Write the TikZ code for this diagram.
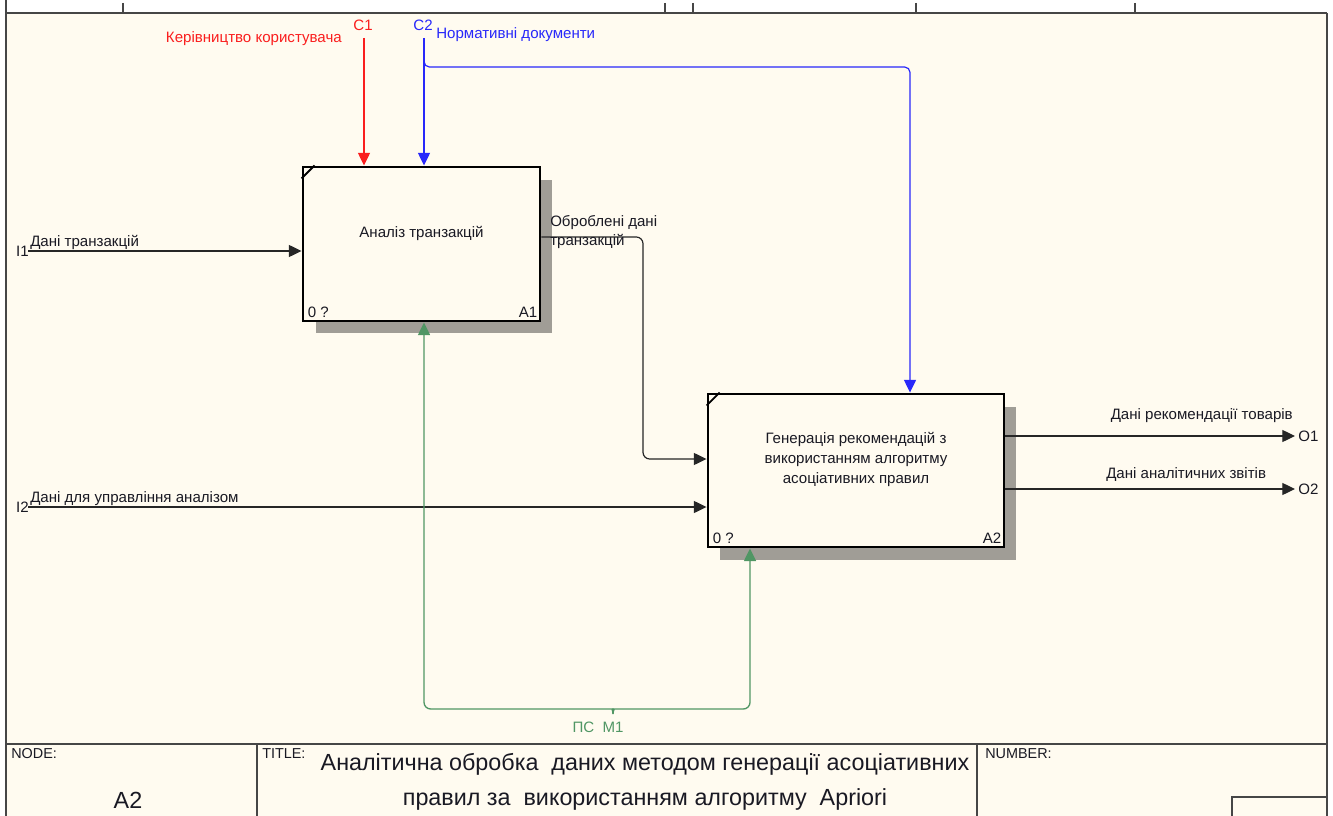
\documentclass[tikz,border=0pt]{standalone}
\usepackage{fontspec}
\setmainfont{Liberation Sans}
\usetikzlibrary{arrows.meta}

\definecolor{paper}{RGB}{255,251,240}
\definecolor{framec}{RGB}{70,70,70}
\definecolor{shadec}{RGB}{160,157,150}
\definecolor{ctrlred}{RGB}{250,30,30}
\definecolor{ctrlblue}{RGB}{40,40,250}
\definecolor{mechgreen}{RGB}{80,150,100}
\definecolor{inkc}{RGB}{25,25,35}

\begin{document}
\begin{tikzpicture}[x=0.75pt,y=-0.75pt,
  every node/.style={font=\fontsize{11.3}{14.25}\selectfont, inner sep=0pt, text=inkc},
  framerule/.style={draw=framec, line width=1.5pt},
  fnbox/.style={draw=black, line width=2.2pt, fill=paper},
  corner/.style={line width=1.4pt},
  arr/.style={-{Triangle[length=9.5pt,width=9pt]}},
  flow/.style={draw=black!85, line width=0.9pt, arr},
  ctrl/.style={line width=0.9pt, arr},
  mech/.style={draw=mechgreen, line width=1pt},
  small/.style={font=\fontsize{10.8}{12}\selectfont},
  big/.style={font=\fontsize{17.5}{26.25}\selectfont}]

% page and frame
\useasboundingbox (0,0) rectangle (1333,816);
\fill[white] (0,0) rectangle (1333,816);
\fill[paper] (6,13) rectangle (1327,816);
\draw[framerule] (6,0) -- (6,816);
\draw[framerule] (1327,13) -- (1327,816);
\draw[framerule] (6,13) -- (1327,13);
\foreach \tx in {123,665,693,916,1135}
  \draw[draw=framec, line width=0.9pt] (\tx,3) -- (\tx,13);

% title block
\draw[framerule] (6,744) -- (1327,744);
\draw[framerule] (257,744) -- (257,816);
\draw[framerule] (977,744) -- (977,816);
\draw[draw=framec, line width=1pt] (1232,816) -- (1232,797) -- (1327,797);
\node[small, anchor=north west] (nodelbl) at (11,748) {NODE:};
\node[big] (nodeval) at (128,800) {A2};
\node[small, anchor=north west] (titlelbl) at (262,748) {TITLE:};
\node[big, align=center] (titleval) at (645,782)
  {Аналітична обробка~ даних методом генерації асоціативних\\правил за~ використанням алгоритму~ Apriori};
\node[small, anchor=north west] (numlbl) at (985,748) {NUMBER:};

% box shadows
\fill[shadec] (540,180) rectangle (552,333);
\fill[shadec] (316,321) rectangle (552,333);
\fill[shadec] (1004,407) rectangle (1016,560);
\fill[shadec] (720,547) rectangle (1016,560);

% activity boxes
\node[fnbox, minimum width=177.75pt, minimum height=115.5pt] (a1) at (421.5,244) {};
\node[fnbox, minimum width=222pt, minimum height=114.75pt] (a2) at (856,470.5) {};
\draw[corner] ([yshift=-9.75pt]a1.north west) -- ([xshift=9.75pt]a1.north west);
\draw[corner] ([yshift=-9.75pt]a2.north west) -- ([xshift=9.75pt]a2.north west);
\node (a1txt) at ([yshift=8.25pt]a1.center) {Аналіз транзакцій};
\node[align=center, font=\fontsize{11.3}{15}\selectfont] (a2txt) at ([yshift=8pt]a2.center)
  {Генерація рекомендацій з\\використанням алгоритму\\асоціативних правил};
\node[anchor=base west] (a1num) at ([xshift=4.5pt,yshift=3.75pt]a1.south west) {0 ?};
\node[anchor=base east] (a1id) at ([xshift=-3pt,yshift=3.75pt]a1.south east) {A1};
\node[anchor=base west] (a2num) at ([xshift=4.5pt,yshift=3.75pt]a2.south west) {0 ?};
\node[anchor=base east] (a2id) at ([xshift=-3pt,yshift=3.75pt]a2.south east) {A2};

% helper coordinates
\coordinate (c1top) at (364,38);
\coordinate (c2top) at (424,38);
\coordinate (c2split) at (424,67);
\coordinate (c2turn) at (910,67);
\coordinate (i1end) at (28,251);
\coordinate (i2end) at (28,507);
\coordinate (a1out) at (643,237);
\coordinate (a1down) at (643,459);
\coordinate (o1end) at (1295,436);
\coordinate (o2end) at (1295,489);
\coordinate (m1tip) at (613,714);
\coordinate (m1left) at (424,709);
\coordinate (m1right) at (750,709);

% controls
\draw[ctrl, draw=ctrlred] (c1top) -- (c1top |- a1.north);
\draw[ctrl, draw=ctrlblue] (c2top) -- (c2top |- a1.north);
\draw[ctrl, draw=ctrlblue, rounded corners=4pt]
  ([yshift=4.5pt]c2split) -- (c2split) -- (c2turn) -- (c2turn |- a2.north);
\node[text=ctrlred] (c1id) at (363,25) {C1};
\node[text=ctrlred, anchor=east] (c1lbl) at (342,39) {Керівництво користувача};
\node[text=ctrlblue] (c2id) at (423,25) {C2};
\node[text=ctrlblue, anchor=west] (c2lbl) at (436,35) {Нормативні документи};

% inputs
\draw[flow] (i1end) -- (i1end -| a1.west);
\draw[flow] (i2end) -- (i2end -| a2.west);
\node[anchor=east] (i1id) at (29,251) {I1};
\node[anchor=east] (i2id) at (29,507) {I2};
\node[anchor=base west] (i1lbl) at (30,247) {Дані транзакцій};
\node[anchor=base west] (i2lbl) at (30,502) {Дані для управління аналізом};

% A1 -> A2
\draw[flow, rounded corners=5pt] (a1out -| a1.east) -- (a1out) -- (a1down) -- (a1down -| a2.west);
\node[anchor=north west, align=left] (a1outlbl) at (550,215) {Оброблені дані\\транзакцій};

% outputs
\draw[flow] (o1end -| a2.east) -- (o1end);
\draw[flow] (o2end -| a2.east) -- (o2end);
\node[anchor=west] (o1id) at (1298,436) {O1};
\node[anchor=west] (o2id) at (1298,489) {O2};
\node[anchor=base east] (o1lbl) at (1293,419) {Дані рекомендації товарів};
\node[anchor=base west] (o2lbl) at (1106,478) {Дані аналітичних звітів};

% mechanism bracket
\draw[mech, arr, rounded corners=5pt]
  (m1tip) .. controls (613,710) and (611,709) .. (606,709) -- (m1left) -- (m1left |- a1.south);
\draw[mech, arr, rounded corners=5pt]
  (m1tip) .. controls (613,710) and (615,709) .. (620,709) -- (m1right) -- (m1right |- a2.south);
\node[text=mechgreen] (m1lbl) at (598,727) {ПС~ М1};

\end{tikzpicture}
\end{document}
